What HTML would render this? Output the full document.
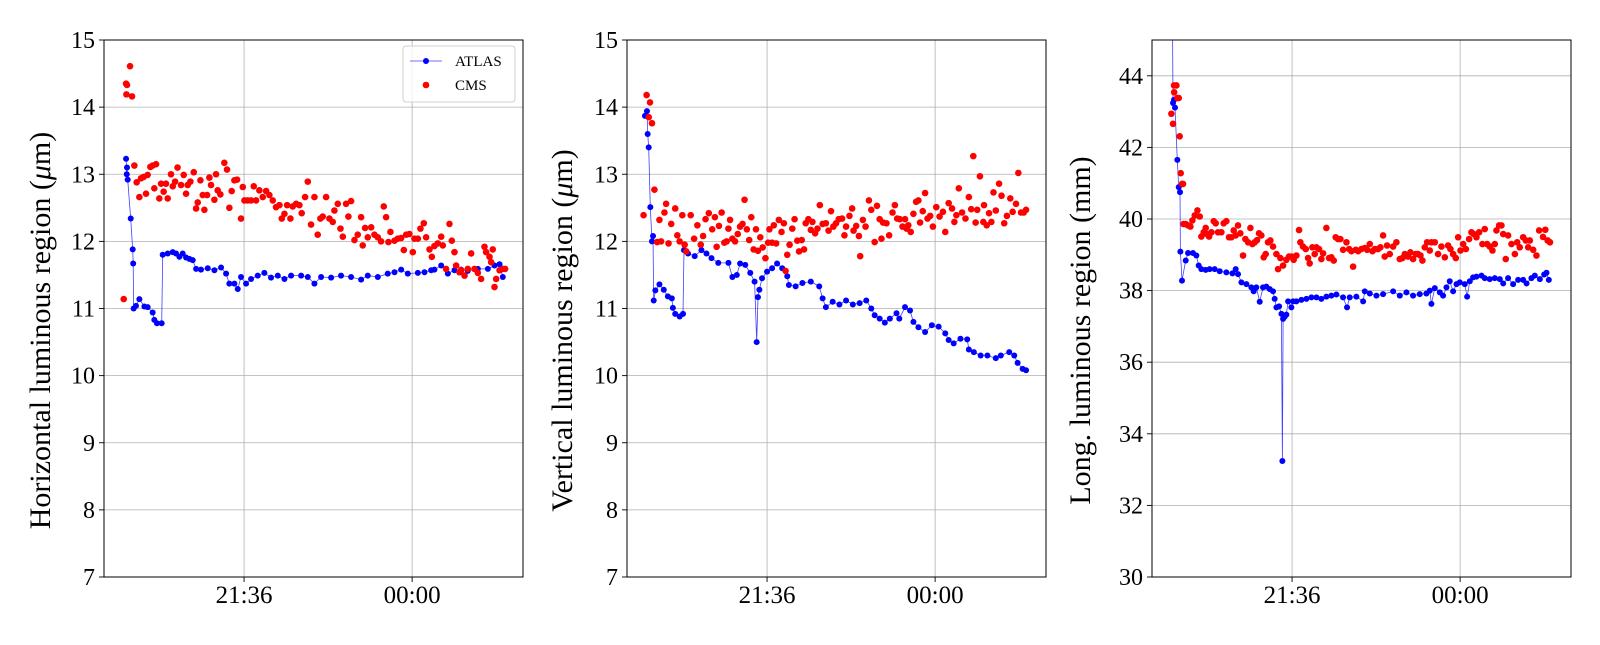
<!DOCTYPE html>
<html><head><meta charset="utf-8"><style>
html,body{margin:0;padding:0;background:#fff;}
svg text{font-family:"Liberation Serif","DejaVu Serif",serif;fill:#000;}
</style></head><body>
<svg id="chart" width="1600" height="640" viewBox="0 0 1600 640" xmlns="http://www.w3.org/2000/svg"></svg>
<script>
// ---- data (time in minutes relative to 21:36) ----
const xTickLabels = ["21:36", "00:00"];
const xTickValues = [0, 144];
const p1YTicks = [7, 8, 9, 10, 11, 12, 13, 14, 15];
const p2YTicks = [7, 8, 9, 10, 11, 12, 13, 14, 15];
const p3YTicks = [30, 32, 34, 36, 38, 40, 42, 44];
const yLabels = ["Horizontal luminous region (", "Vertical luminous region (", "Long. luminous region (mm)"];

const p1AtlasT = [-101.1,-100.5,-100.3,-99.7,-97.1,-95.4,-95.0,-94.6,-92.6,-89.7,-85.4,-82.6,-78.3,-76.9,-74.6,-70.6,-69.7,-65.4,-61.1,-58.3,-55.4,-52.6,-49.7,-46.9,-44.0,-41.1,-36.9,-31.1,-25.4,-19.7,-15.4,-12.6,-8.3,-5.4,-2.6,1.7,6.0,11.7,17.4,23.1,28.9,34.6,40.3,48.9,54.6,60.3,66.0,74.6,83.1,91.7,100.3,106.0,114.6,123.1,128.9,134.6,140.3,148.9,154.6,160.3,163.1,168.9,174.6,180.3,186.0,191.7,200.3,208.9,214.6,218.9,221.7];
const p1Atlas = [13.23,13.0,13.1,12.92,12.34,11.88,11.67,11.0,11.04,11.14,11.03,11.02,10.94,10.83,10.78,10.78,11.8,11.82,11.84,11.82,11.77,11.82,11.76,11.74,11.72,11.59,11.58,11.6,11.57,11.61,11.52,11.37,11.37,11.29,11.47,11.37,11.44,11.49,11.53,11.46,11.49,11.44,11.49,11.49,11.47,11.37,11.47,11.46,11.49,11.47,11.43,11.49,11.47,11.52,11.54,11.58,11.52,11.53,11.54,11.57,11.58,11.64,11.52,11.57,11.58,11.56,11.59,11.59,11.64,11.66,11.47];
const p1CmsT = [-103.1,-101.1,-100.3,-100.8,-97.7,-96,-94,-92,-89.7,-88.3,-86,-84,-82.6,-80.3,-78.3,-75.4,-76.9,-72.6,-71.1,-68.9,-66.9,-65.4,-62.6,-61.1,-59.1,-57,-54,-51.7,-49.7,-48.3,-46,-43.1,-41.1,-39.7,-37.4,-35.4,-34,-31.7,-29.7,-28.3,-25.4,-24,-22.6,-20.3,-16.9,-14.6,-12.6,-10.6,-8.3,-6,-2.6,-1.1,0.3,3.1,6,8.3,10.3,13.1,16,18.9,21.7,24.6,27.4,30.3,32.3,34.6,36.9,39.7,41.7,44.6,47.4,49.4,52.3,54.6,57.4,60.3,63.1,65.4,67.4,70.3,73.1,76,77.4,80.3,82.6,84.6,87.4,89.4,91.7,94.6,97.4,100.3,101.7,103.7,106,108.9,111.7,114.6,117.4,119.7,121.7,123.7,125.4,128.9,131.7,134.6,136.9,138.9,141.7,144.6,146,148.9,151.1,154,156,158.9,160.9,163.1,166,168.9,170.3,173.1,176,178,180.3,181.7,184.6,186,188.9,191.7,194.6,197.4,200.3,203.1,206,207.4,210.3,211.7,213.1,214.6,216,218.9,221.7,223.7];
const p1Cms = [11.14,14.35,14.33,14.19,14.61,14.16,13.13,12.88,12.66,12.94,12.96,12.71,12.99,13.11,13.13,13.15,12.79,12.64,12.86,12.74,12.86,12.64,13.0,12.82,12.89,13.1,12.84,12.99,12.71,12.84,12.89,13.03,12.49,12.58,12.91,12.69,12.47,12.69,12.95,12.84,12.62,13.0,12.76,12.7,13.17,13.07,12.5,12.75,12.91,12.92,12.34,12.81,12.61,12.61,12.61,12.82,12.61,12.76,12.66,12.75,12.69,12.61,12.51,12.54,12.34,12.41,12.54,12.34,12.52,12.56,12.54,12.42,12.66,12.89,12.25,12.66,12.1,12.34,12.37,12.66,12.34,12.29,12.46,12.56,12.19,12.07,12.56,12.37,12.6,12.02,12.1,12.36,11.94,12.2,12.06,12.21,12.1,12.06,12.0,12.52,12.36,11.99,12.14,12.01,12.04,12.05,11.87,12.1,12.11,11.84,12.04,12.04,12.19,12.27,12.06,11.88,11.77,11.93,11.97,12.07,11.94,11.59,12.26,12.01,11.84,11.64,11.54,11.57,11.49,11.59,11.82,11.59,11.53,11.44,11.92,11.84,11.77,11.69,11.88,11.32,11.44,11.57,11.59,11.59];

const p2AtlasT = [-104.6,-102.9,-102.3,-101.4,-100,-98.6,-97.7,-97.1,-95.7,-92.2,-88.5,-85,-81.6,-80.7,-78.7,-74.9,-72,-71.2,-67.7,-62,-56.2,-51.9,-47.6,-41.8,-33.1,-29.7,-25.9,-23.1,-18.7,-14.4,-10.7,-8.9,-7.8,-6.6,-4.3,0,4.3,8.6,13,17.3,18.7,24.5,30.3,37.5,44.7,47.6,50.4,56.2,62,67.7,73.5,79.3,85,89.3,92.2,96.5,100.9,105.2,110.9,113.3,118.2,122.5,125.4,129.7,135.4,141.2,147,152.7,155.6,159.9,165.7,171.5,172.9,177.2,183,188.8,196,200.3,207.5,211.8,214.7,219,221.9];
const p2Atlas = [13.87,13.94,13.6,13.4,12.51,12.0,12.08,11.12,11.27,11.36,11.28,11.18,11.15,11.01,10.92,10.88,10.92,11.87,11.82,11.78,11.87,11.82,11.75,11.68,11.68,11.47,11.5,11.67,11.65,11.53,11.4,10.5,11.17,11.28,11.45,11.55,11.6,11.67,11.6,11.48,11.35,11.33,11.38,11.4,11.33,11.15,11.02,11.1,11.06,11.12,11.06,11.08,11.12,11.0,10.9,10.85,10.79,10.85,10.93,10.85,11.02,10.97,10.8,10.72,10.65,10.75,10.73,10.63,10.53,10.48,10.55,10.54,10.39,10.35,10.3,10.3,10.26,10.3,10.35,10.3,10.19,10.1,10.08];
const p2CmsT = [-105.8,-103.2,-101.4,-100.3,-98.6,-96.5,-94.2,-92.2,-90.8,-87.9,-86.5,-84.4,-82.1,-78.7,-76.9,-74.9,-72.6,-70.6,-69.2,-65.4,-62.5,-59.7,-56.8,-54.8,-52.7,-49.9,-47,-44.7,-43.2,-41.2,-38.9,-36.6,-34.6,-33.1,-31.7,-29.7,-27.4,-25.1,-23.1,-21,-19.3,-17.3,-15.3,-13.5,-11.5,-9.5,-7.8,-5.8,-3.7,-1.4,0.9,2,4.3,5.8,7.8,10.1,12.4,14.4,15.9,17.3,19.3,21.6,23.6,25.9,27.4,29.7,31.7,33.1,35.4,37.5,38.9,41.2,43.2,45.2,47.6,50.4,52.7,54.8,56.8,59.1,61.4,64.3,66.3,67.7,70.6,72.9,74.1,76.4,78.7,79.8,82.1,84.4,87.3,89.3,92.2,94.2,96.5,98,99.4,102.3,104.6,107.5,109.5,111.5,113.8,116.1,118.2,119.6,121,123.1,125.4,127.7,129.7,131.1,133.4,135.4,137.5,139.8,142.1,145,147.8,150.7,152.7,155.6,158.5,160.5,162.2,164.3,167.1,170,172.9,174.9,176.7,178.7,180.1,182.4,185.3,185.9,188.2,190.2,192.2,194,196,198.8,200.9,203.2,205.5,208.4,210.4,213.3,215.3,217.6,219.9,221.9];
const p2Cms = [12.39,14.18,13.85,14.07,13.76,12.77,11.99,12.32,12.0,12.43,12.56,11.97,12.26,12.49,12.09,12.0,12.39,11.95,11.85,12.39,12.04,12.24,11.95,12.08,12.33,12.42,12.18,12.36,11.92,12.23,12.43,11.98,12.0,12.19,12.32,12.04,12.0,12.11,12.22,12.26,12.62,12.18,12.02,12.36,11.88,12.18,11.86,12.06,11.91,11.75,11.98,12.18,11.98,12.24,11.97,12.32,12.14,12.27,11.56,11.8,11.95,12.19,12.33,12.01,11.85,12.02,11.88,12.27,12.33,12.17,12.29,12.12,12.19,12.54,12.26,12.27,12.16,12.45,12.22,12.27,12.33,12.34,12.09,12.22,12.38,12.49,12.16,12.23,12.08,11.78,12.32,12.22,12.61,12.47,11.99,12.53,12.33,12.04,12.28,12.27,12.09,12.43,12.54,12.34,12.33,12.22,12.33,12.19,12.24,12.14,12.41,12.59,12.61,12.28,12.45,12.72,12.34,12.38,12.22,12.51,12.37,12.44,12.14,12.57,12.49,12.29,12.39,12.79,12.43,12.34,12.66,12.48,13.27,12.28,12.47,12.97,12.29,12.54,12.24,12.42,12.29,12.73,12.46,12.86,12.68,12.27,12.38,12.64,12.44,12.56,13.02,12.43,12.43,12.47];

const p3AtlasT = [-102.6,-102,-101.1,-100.3,-98.3,-97.1,-96,-95.7,-94.3,-91.1,-89.1,-84.9,-82,-80,-77.7,-74,-70.6,-66.3,-62,-56.3,-51.1,-48.3,-46.3,-43.4,-39.1,-34.9,-32.9,-30.6,-27.7,-24.9,-22,-19.1,-16.3,-14.9,-13.4,-11.1,-9.1,-8.3,-7.7,-6.3,-4.9,-3.4,-0.6,0.9,3.7,8,12.3,16.6,20.9,25.1,29.4,33.7,38,43.7,47.1,49.4,55.1,60.9,62.3,66.6,72.3,78,86.6,92.3,98,103.7,109.4,115.1,118,119.4,122.3,126.6,129.4,132.3,135.1,138,140.9,143.7,148,150,152.3,155.1,158,162.3,165.1,169.4,173.7,178,180.9,185.1,189.4,193.7,198,200.9,205.1,208,212.3,216,218,220];
const p3Atlas = [46.5,43.24,43.33,43.11,41.65,40.89,40.75,39.09,38.28,38.84,39.05,39.05,38.98,38.7,38.6,38.58,38.6,38.6,38.54,38.51,38.48,38.6,38.46,38.23,38.18,38.09,37.98,38.09,37.69,38.09,38.11,38.04,37.98,37.77,37.53,37.56,37.35,33.24,37.21,37.27,37.33,37.7,37.53,37.7,37.7,37.74,37.77,37.81,37.81,37.77,37.83,37.86,37.89,37.81,37.53,37.81,37.83,37.7,37.98,37.92,37.86,37.9,37.98,37.86,37.95,37.86,37.9,37.92,38.0,37.63,38.07,37.95,37.86,38.09,38.26,37.98,38.18,38.23,38.18,37.83,38.26,38.37,38.39,38.42,38.35,38.32,38.35,38.32,38.2,38.35,38.18,38.3,38.3,38.2,38.35,38.42,38.32,38.45,38.5,38.3];
const p3CmsT = [-103.4,-102,-101.1,-101.0,-99.1,-98.3,-97.1,-96.3,-95.4,-94.3,-93.4,-93.0,-91.1,-89.1,-87.1,-85.4,-83.4,-81.1,-79.1,-77.7,-75.7,-74,-72.9,-71.1,-69.1,-67.1,-65.4,-63.4,-60.6,-58.6,-56.3,-54,-52,-50,-48.3,-46.3,-44.3,-42,-40,-37.7,-35.7,-34,-32,-30,-28.3,-26.3,-24.3,-22.6,-20.6,-18.6,-16.3,-13.4,-12,-10,-7.7,-4.9,-2.6,-0.6,1.4,3.7,6,7.1,9.4,11.7,13.7,15.1,17.4,19.4,20.9,23.1,25.1,26.6,29.4,31.7,33.7,35.7,37.4,39.4,41.4,43.7,46.6,48.9,50.9,52.3,54.6,56.6,59.4,62.3,64.3,66.6,68.9,70.9,73.7,75.7,78,79.4,81.4,83.7,86.6,89.4,92.3,94.6,96.6,99.4,101.4,103.7,106,108,110,111.7,113.7,115.7,118,119.4,122.3,125.1,128,130.9,133.7,135.7,138,140.3,142.3,144.3,146.6,148.9,151.7,153.7,155.7,158,160.3,163.1,165.1,167.1,169.4,171.7,173.7,175.1,177.4,179.4,180.9,183.1,185.1,188,190.9,192.9,195.1,198,200.3,202.3,203.7,206.6,209.4,211.7,215,217,219,221];
const p3Cms = [42.94,42.66,43.73,43.54,43.73,43.38,43.38,42.31,41.28,40.98,40.98,39.86,39.86,39.82,39.79,39.96,40.1,40.24,40.07,39.51,39.63,39.75,39.58,39.51,39.63,39.94,39.88,39.63,39.63,39.88,39.94,39.49,39.49,39.68,39.54,39.82,39.6,38.98,39.44,39.35,39.75,39.3,39.35,39.41,39.6,39.54,38.93,39.02,39.35,39.4,39.23,39.02,38.6,38.91,38.7,38.86,38.95,38.95,38.86,38.98,39.69,39.35,39.23,39.16,38.91,38.76,39.21,39.02,39.21,39.16,38.88,39.04,39.75,38.91,38.93,38.84,39.49,39.44,39.44,39.14,39.35,39.16,39.1,38.67,39.14,39.1,39.16,39.19,39.14,39.3,39.1,39.16,39.16,39.21,39.54,38.95,39.26,39.02,39.23,39.35,38.88,38.91,39.02,38.95,39.07,38.88,39.02,39.02,38.98,38.84,39.21,39.35,39.12,39.35,39.35,39.02,39.23,38.93,39.26,39.16,39.02,38.91,39.49,39.12,39.3,39.16,39.44,39.63,39.58,39.49,39.63,39.3,39.72,39.3,39.23,39.12,39.3,39.68,39.82,39.82,39.58,38.88,39.54,39.3,39.02,39.35,39.21,39.49,39.4,39.21,39.4,39.14,38.98,39.68,39.5,39.7,39.4,39.35];

// ---- rendering ----
const NS = "http://www.w3.org/2000/svg";
const svg = document.getElementById("chart");
const TOP = 40, BOT = 577, W = 419;
const X0 = -120, X1 = 239;
function mk(tag, attrs, parent) {
  const e = document.createElementNS(NS, tag);
  for (const k in attrs) e.setAttribute(k, attrs[k]);
  (parent || svg).appendChild(e);
  return e;
}
function drawPanel(idx, left, yTicks, yMin, yMax, aT, aV, cT, cV, labelPrefix, italicMu, labelX) {
  const g = mk("g", {});
  
  
  const xs = t => left + (t - X0) / (X1 - X0) * W;
  const ys = v => BOT - (v - yMin) / (yMax - yMin) * (BOT - TOP);
  const clipId = "clip" + idx;
  const cp = mk("clipPath", { id: clipId }, g);
  mk("rect", { x: left, y: TOP, width: W, height: BOT - TOP }, cp);
  yTicks.forEach(v => {
    const gl = mk("line", { x1: left, x2: left + W, y1: ys(v), y2: ys(v), stroke: "#b0b0b0", "stroke-width": 0.8 }, g);
    
    
    const tk = mk("line", { x1: left - 5, x2: left, y1: ys(v), y2: ys(v), stroke: "#000", "stroke-width": 0.9 }, g);
    
    
    const tl = mk("text", { x: left - 9, y: ys(v) + 8, "text-anchor": "end", "font-size": 24 }, g);
    tl.textContent = String(v);
    
    
  });
  xTickValues.forEach((v, i) => {
    const gl = mk("line", { x1: xs(v), x2: xs(v), y1: TOP, y2: BOT, stroke: "#b0b0b0", "stroke-width": 0.8 }, g);
    
    
    const tk = mk("line", { x1: xs(v), x2: xs(v), y1: BOT, y2: BOT + 5, stroke: "#000", "stroke-width": 0.9 }, g);
    
    
    const tl = mk("text", { x: xs(v), y: BOT + 26, "text-anchor": "middle", "font-size": 25 }, g);
    tl.textContent = xTickLabels[i];
    
    
  });
  const data = mk("g", { "clip-path": "url(#" + clipId + ")" }, g);
  const pts = aT.map((t, i) => xs(t).toFixed(1) + "," + ys(aV[i]).toFixed(1)).join(" ");
  const pl = mk("polyline", { points: pts, fill: "none", stroke: "#0000ff", "stroke-width": 0.8, "stroke-opacity": 0.75 }, data);
  
  
  aT.forEach((t, i) => {
    const c = mk("circle", { cx: xs(t), cy: ys(aV[i]), r: 3.0, fill: "#0000ff" }, data);
    
    
  });
  cT.forEach((t, i) => {
    const c = mk("circle", { cx: xs(t), cy: ys(cV[i]), r: 3.3, fill: "#ff0000" }, data);
    
    
  });
  const fr = mk("rect", { x: left, y: TOP, width: W, height: BOT - TOP, fill: "none", stroke: "#000", "stroke-width": 1 }, g);
  
  
  const cy = (TOP + BOT) / 2 + 22;
  const lab = mk("text", { x: labelX, y: cy, "text-anchor": "middle", "font-size": 30, transform: "rotate(-90 " + labelX + " " + cy + ")" }, g);
  
  
  if (italicMu) {
    lab.appendChild(document.createTextNode(labelPrefix));
    const mu = mk("tspan", { "font-style": "italic" }, lab);
    mu.textContent = "\u03bc";
    lab.appendChild(document.createTextNode("m)"));
  } else {
    lab.textContent = labelPrefix;
  }
}
const lefts = [104, 627, 1152];
drawPanel(0, lefts[0], p1YTicks, 7, 15, p1AtlasT, p1Atlas, p1CmsT, p1Cms, yLabels[0], true, 50);
drawPanel(1, lefts[1], p2YTicks, 7, 15, p2AtlasT, p2Atlas, p2CmsT, p2Cms, yLabels[1], true, 572);
drawPanel(2, lefts[2], p3YTicks, 30, 45, p3AtlasT, p3Atlas, p3CmsT, p3Cms, yLabels[2], false, 1090);

const lg = mk("g", {});


const lbox = mk("rect", { x: 403, y: 46, width: 112, height: 56, rx: 3, fill: "#fff", "fill-opacity": 0.8, stroke: "#d0d0d0", "stroke-width": 1 }, lg);


const ll = mk("line", { x1: 410, x2: 442, y1: 61, y2: 61, stroke: "#0000ff", "stroke-width": 0.8, "stroke-opacity": 0.75 }, lg);


const lc = mk("circle", { cx: 426, cy: 61, r: 3.0, fill: "#0000ff" }, lg);


const lt1 = mk("text", { x: 455, y: 66, "font-size": 15 }, lg);
lt1.textContent = "ATLAS";


const lc2 = mk("circle", { cx: 426, cy: 85, r: 3.3, fill: "#ff0000" }, lg);


const lt2 = mk("text", { x: 455, y: 90, "font-size": 15 }, lg);
lt2.textContent = "CMS";


</script>
</body></html>
